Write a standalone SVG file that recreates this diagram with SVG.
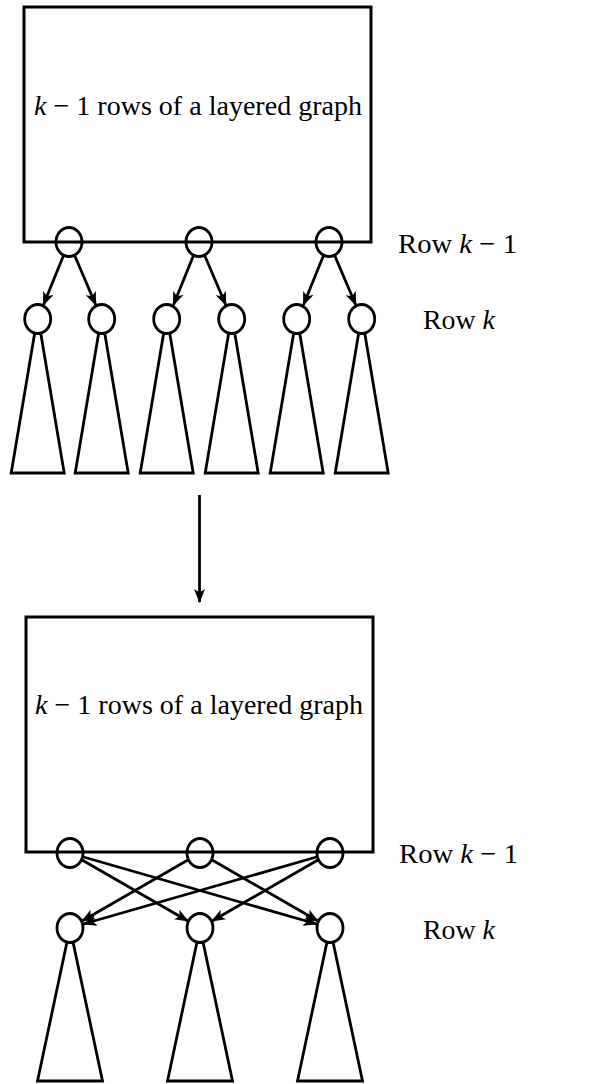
<svg xmlns="http://www.w3.org/2000/svg" width="609" height="1084" viewBox="0 0 609 1084">
  <style>
    .box { fill: none; stroke: #000; stroke-width: 3; }
    .node { fill: #fff; stroke: #000; stroke-width: 2.8; }
    .node.open { fill: none; }
    .tree { fill: none; stroke: #000; stroke-width: 2.8; stroke-linejoin: miter; }
    .edge { stroke: #000; stroke-width: 2.8; fill: none; marker-end: url(#head); }
    text { font-family: "Liberation Serif", "Times New Roman", serif; font-size: 28px; fill: #000; }
    .it { font-style: italic; }
  </style>
  <defs>
    <marker id="head" viewBox="0 0 14 11" refX="13" refY="5.5" markerWidth="14" markerHeight="11" markerUnits="userSpaceOnUse" orient="auto">
      <path d="M0,0 L14,5.5 L0,11 L3.5,5.5 z" fill="#000"/>
    </marker>
  </defs>
  <rect width="609" height="1084" fill="#fff"/>

  <!-- upper configuration: each row k-1 node has two children -->
  <g id="upper-box">
    <rect class="box" x="24" y="7" width="347" height="235"/>
    <text x="34" y="115" textLength="328" lengthAdjust="spacingAndGlyphs"><tspan class="it">k</tspan> − 1 rows of a layered graph</text>
  </g>
  <g id="upper-trees">
    <polygon class="tree" points="34.7,333 11.2,473 64.2,473 40.7,333"/>
    <polygon class="tree" points="98.7,333 75.2,473 128.2,473 104.7,333"/>
    <polygon class="tree" points="163.7,333 140.2,473 193.2,473 169.7,333"/>
    <polygon class="tree" points="228.7,333 205.2,473 258.2,473 234.7,333"/>
    <polygon class="tree" points="293.7,333 270.2,473 323.2,473 299.7,333"/>
    <polygon class="tree" points="358.7,333 335.2,473 388.2,473 364.7,333"/>
  </g>
  <g id="upper-row-k-1">
    <ellipse class="node open" cx="69" cy="242" rx="13" ry="14.5"/>
    <ellipse class="node open" cx="199" cy="242" rx="13" ry="14.5"/>
    <ellipse class="node open" cx="329" cy="242" rx="13" ry="14.5"/>
  </g>
  <g id="upper-row-k">
    <ellipse class="node" cx="37.7" cy="319" rx="13" ry="14.5"/>
    <ellipse class="node" cx="101.7" cy="319" rx="13" ry="14.5"/>
    <ellipse class="node" cx="166.7" cy="319" rx="13" ry="14.5"/>
    <ellipse class="node" cx="231.7" cy="319" rx="13" ry="14.5"/>
    <ellipse class="node" cx="296.7" cy="319" rx="13" ry="14.5"/>
    <ellipse class="node" cx="361.7" cy="319" rx="13" ry="14.5"/>
  </g>
  <g id="upper-labels">
    <text x="398" y="253" textLength="119" lengthAdjust="spacingAndGlyphs">Row <tspan class="it">k</tspan> − 1</text>
    <text x="423" y="329" textLength="72" lengthAdjust="spacingAndGlyphs">Row <tspan class="it">k</tspan></text>
  </g>

  <!-- lower configuration: complete bipartite crossing edges -->
  <g id="lower-box">
    <rect class="box" x="26" y="617" width="347" height="235"/>
    <text x="35" y="714" textLength="328" lengthAdjust="spacingAndGlyphs"><tspan class="it">k</tspan> − 1 rows of a layered graph</text>
  </g>
  <g id="lower-trees">
    <polygon class="tree" points="67,942 37.5,1081 102.5,1081 73,942"/>
    <polygon class="tree" points="197,942 167.5,1081 232.5,1081 203,942"/>
    <polygon class="tree" points="327,942 297.5,1081 362.5,1081 333,942"/>
  </g>
  <g id="lower-row-k-1">
    <ellipse class="node open" cx="70" cy="853" rx="13" ry="14.5"/>
    <ellipse class="node open" cx="200" cy="853" rx="13" ry="14.5"/>
    <ellipse class="node open" cx="330" cy="853" rx="13" ry="14.5"/>
  </g>
  <g id="lower-row-k">
    <ellipse class="node" cx="70" cy="928" rx="13" ry="14.5"/>
    <ellipse class="node" cx="200" cy="928" rx="13" ry="14.5"/>
    <ellipse class="node" cx="330" cy="928" rx="13" ry="14.5"/>
  </g>
  <g id="lower-labels">
    <text x="399" y="863" textLength="119" lengthAdjust="spacingAndGlyphs">Row <tspan class="it">k</tspan> − 1</text>
    <text x="423" y="939" textLength="72" lengthAdjust="spacingAndGlyphs">Row <tspan class="it">k</tspan></text>
  </g>

  <g id="connectors">
    <!-- parent to children, upper -->
    <line class="edge" x1="63.3" y1="256" x2="43.4" y2="305"/>
    <line class="edge" x1="74.9" y1="256" x2="95.8" y2="305"/>
    <line class="edge" x1="193.3" y1="256" x2="173.4" y2="305"/>
    <line class="edge" x1="204.9" y1="256" x2="225.8" y2="305"/>
    <line class="edge" x1="323.3" y1="256" x2="303.4" y2="305"/>
    <line class="edge" x1="334.9" y1="256" x2="355.8" y2="305"/>
    <!-- transformation -->
    <line class="edge" x1="199.5" y1="495" x2="199.5" y2="602"/>
    <!-- crossing edges, lower -->
    <line class="edge" x1="82.1" y1="860" x2="187.9" y2="921"/>
    <line class="edge" x1="83.5" y1="857" x2="316.5" y2="924"/>
    <line class="edge" x1="187.9" y1="860" x2="82.1" y2="921"/>
    <line class="edge" x1="212.1" y1="860" x2="317.9" y2="921"/>
    <line class="edge" x1="316.5" y1="857" x2="83.5" y2="924"/>
    <line class="edge" x1="317.9" y1="860" x2="212.1" y2="921"/>
  </g>
</svg>
